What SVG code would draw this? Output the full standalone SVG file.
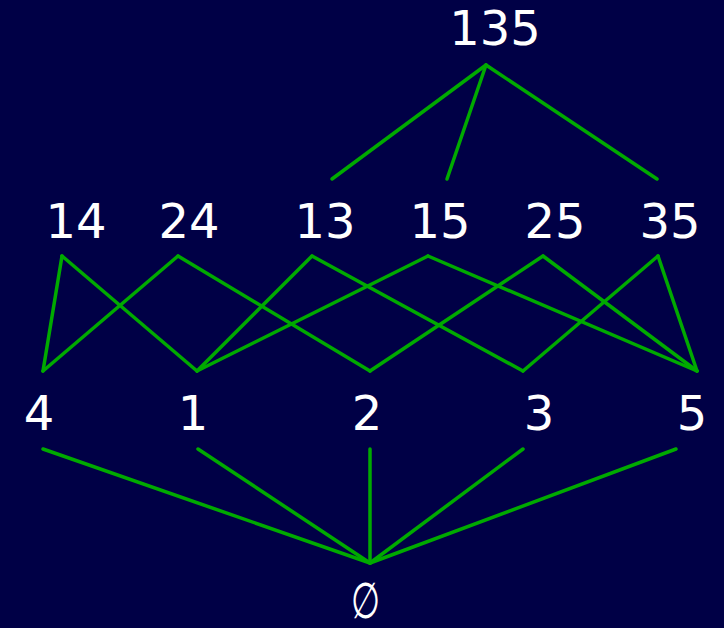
<svg xmlns="http://www.w3.org/2000/svg" width="724" height="628" viewBox="0 0 724 628">
<style>
.t{font-family:"DejaVu Sans",Verdana,sans-serif;font-size:48px;fill:#ffffff;text-anchor:middle}
.e{font-family:"Liberation Serif","DejaVu Serif",serif;font-size:48px;fill:#ffffff;text-anchor:middle}
.c line{stroke:#00aa00;stroke-width:3.5;stroke-linecap:round}
</style>
<rect width="724" height="628" fill="#000046"/>
<g class="c" id="connectors">
<line x1="486" y1="65" x2="332" y2="179"/>
<line x1="486" y1="65" x2="447" y2="179"/>
<line x1="486" y1="65" x2="657" y2="179"/>
<line x1="62" y1="256" x2="43" y2="371"/>
<line x1="62" y1="256" x2="197" y2="371"/>
<line x1="178" y1="256" x2="43" y2="371"/>
<line x1="178" y1="256" x2="370" y2="371"/>
<line x1="312" y1="256" x2="197" y2="371"/>
<line x1="312" y1="256" x2="523" y2="371"/>
<line x1="428" y1="256" x2="197" y2="371"/>
<line x1="428" y1="256" x2="697" y2="371"/>
<line x1="543" y1="256" x2="370" y2="371"/>
<line x1="543" y1="256" x2="697" y2="371"/>
<line x1="658" y1="256" x2="523" y2="371"/>
<line x1="658" y1="256" x2="697" y2="371"/>
<line x1="43" y1="449" x2="370" y2="563"/>
<line x1="198" y1="449" x2="370" y2="563"/>
<line x1="370" y1="449" x2="370" y2="563"/>
<line x1="523" y1="449" x2="370" y2="563"/>
<line x1="676" y1="449" x2="370" y2="563"/>
</g>
<g id="n135"><text class="t" x="495" y="45">135</text></g>
<g id="n14"><text class="t" x="76" y="238">14</text></g>
<g id="n24"><text class="t" x="189" y="238">24</text></g>
<g id="n13"><text class="t" x="325" y="238">13</text></g>
<g id="n15"><text class="t" x="440" y="238">15</text></g>
<g id="n25"><text class="t" x="555" y="238">25</text></g>
<g id="n35"><text class="t" x="670" y="238">35</text></g>
<g id="n4"><text class="t" x="39" y="430">4</text></g>
<g id="n1"><text class="t" x="193" y="430">1</text></g>
<g id="n2"><text class="t" x="367" y="430">2</text></g>
<g id="n3"><text class="t" x="539" y="430">3</text></g>
<g id="n5"><text class="t" x="692" y="430">5</text></g>
<g id="nempty" transform="translate(366,618) scale(0.7,1.05)"><text class="e" x="0" y="0">∅</text></g>
</svg>
